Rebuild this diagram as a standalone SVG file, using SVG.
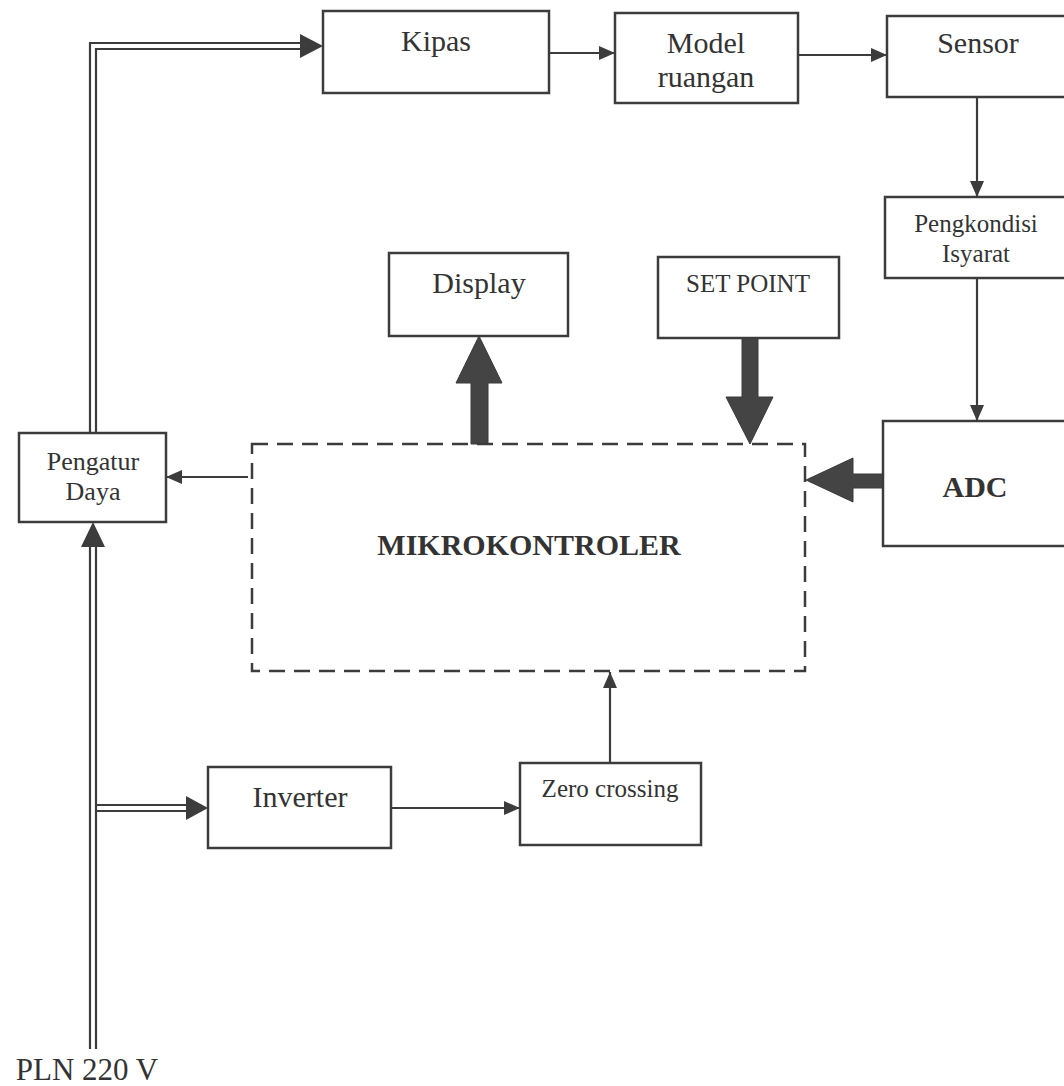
<svg xmlns="http://www.w3.org/2000/svg" width="1064" height="1086" viewBox="0 0 1064 1086">
<defs>
<style>
.box{fill:#fff;stroke:#3c3c3c;stroke-width:2.5}
.dash{fill:none;stroke:#3c3c3c;stroke-width:2.5;stroke-dasharray:16 9}
.t{font-family:"Liberation Serif","Times New Roman",serif;fill:#333;text-anchor:middle}
.b{font-weight:bold}
.ln{fill:none;stroke:#3c3c3c;stroke-width:2.2}
.dl{fill:none;stroke:#3c3c3c;stroke-width:2.2}
.head{fill:#3c3c3c}
.fat{fill:#444;stroke:#3a3a3a;stroke-width:1}
</style>
<marker id="arr" markerUnits="userSpaceOnUse" markerWidth="16" markerHeight="14" refX="16" refY="7" orient="auto">
<path d="M0,0 L16,7 L0,14 Z" fill="#3c3c3c"/>
</marker>
</defs>
<rect width="1064" height="1086" fill="#fff"/>

<g id="connectors">
<path class="dl" d="M90,433 L90,43 L302,43"/>
<path class="dl" d="M96,433 L96,49 L302,49"/>
<polygon class="head" points="300,34 323,46 300,58"/>
<path class="dl" d="M90,547 L90,1049"/>
<path class="dl" d="M96,547 L96,1049"/>
<path class="dl" d="M96,805 L188,805"/>
<path class="dl" d="M96,811 L188,811"/>
<polygon class="head" points="81,547 93,522 105,547"/>
<polygon class="head" points="186,796 208,808 186,820"/>
<path class="ln" d="M549,53 L615,53" marker-end="url(#arr)"/>
<path class="ln" d="M798,55 L887,55" marker-end="url(#arr)"/>
<path class="ln" d="M977,97 L977,197" marker-end="url(#arr)"/>
<path class="ln" d="M977,278 L977,421" marker-end="url(#arr)"/>
<path class="ln" d="M248,477 L166,477" marker-end="url(#arr)"/>
<path class="ln" d="M391,808 L520,808" marker-end="url(#arr)"/>
<path class="ln" d="M610,763 L610,672" marker-end="url(#arr)"/>
<polygon class="fat" points="471,444 488,444 488,383 502,383 479,336 456,383 471,383"/>
<polygon class="fat" points="742,338 758,338 758,397 773,397 750,444 726,397 742,397"/>
<polygon class="fat" points="883,474 883,488 853,488 853,502 806,480 853,458 853,474"/>
</g>

<g id="kipas">
<rect class="box" x="323" y="11" width="226" height="82"/>
<text class="t" x="436" y="51" font-size="30">Kipas</text>
</g>
<g id="model-ruangan">
<rect class="box" x="615" y="13" width="183" height="90"/>
<text class="t" x="706" y="53" font-size="30">Model</text>
<text class="t" x="706" y="87" font-size="30">ruangan</text>
</g>
<g id="sensor">
<rect class="box" x="887" y="16" width="190" height="81"/>
<text class="t" x="978" y="53" font-size="30">Sensor</text>
</g>
<g id="pengkondisi">
<rect class="box" x="885" y="197" width="190" height="81"/>
<text class="t" x="976" y="232" font-size="25">Pengkondisi</text>
<text class="t" x="976" y="262" font-size="25">Isyarat</text>
</g>
<g id="display">
<rect class="box" x="389" y="253" width="179" height="83"/>
<text class="t" x="479" y="293" font-size="30">Display</text>
</g>
<g id="set-point">
<rect class="box" x="658" y="257" width="181" height="81"/>
<text class="t" x="748" y="292" font-size="25">SET POINT</text>
</g>
<g id="adc">
<rect class="box" x="883" y="421" width="195" height="125"/>
<text class="t b" x="975" y="497" font-size="30">ADC</text>
</g>
<g id="pengatur-daya">
<rect class="box" x="19" y="433" width="147" height="89"/>
<text class="t" x="93" y="470" font-size="26">Pengatur</text>
<text class="t" x="93" y="500" font-size="26">Daya</text>
</g>
<g id="mikrokontroler">
<rect class="dash" x="252" y="444" width="553" height="227"/>
<text class="t b" x="529" y="555" font-size="30">MIKROKONTROLER</text>
</g>
<g id="inverter">
<rect class="box" x="208" y="767" width="183" height="81"/>
<text class="t" x="300" y="807" font-size="30">Inverter</text>
</g>
<g id="zero-crossing">
<rect class="box" x="520" y="763" width="181" height="82"/>
<text class="t" x="610" y="797" font-size="25">Zero crossing</text>
</g>
<g id="pln">
<text class="t" x="87" y="1080" font-size="31">PLN 220 V</text>
</g>
</svg>
